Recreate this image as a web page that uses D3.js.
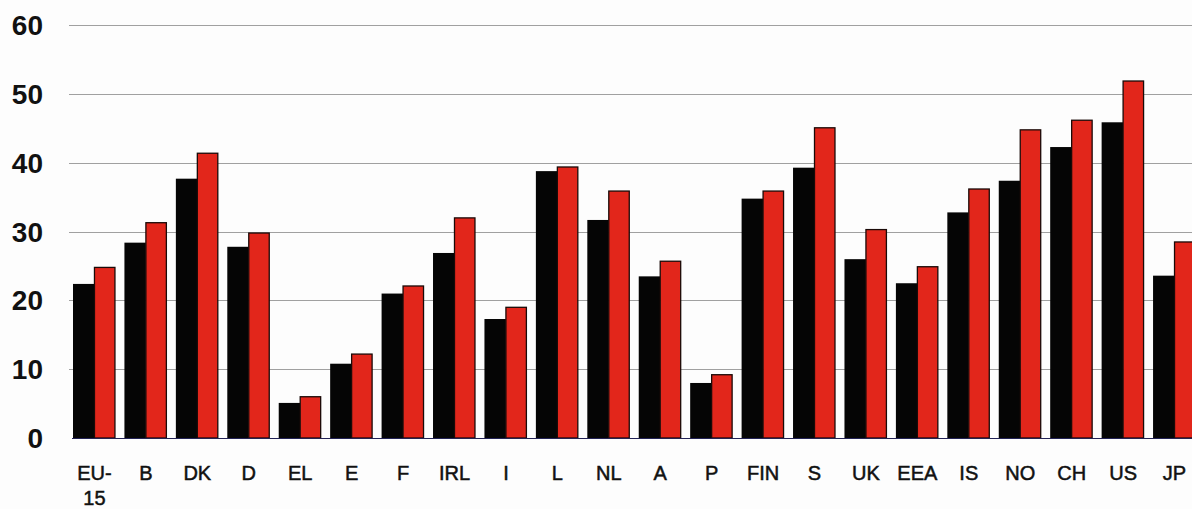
<!DOCTYPE html>
<html><head><meta charset="utf-8">
<script src="https://cdn.jsdelivr.net/npm/d3@7"></script>
<style>html,body{margin:0;padding:0;background:#fdfdfd;}svg{display:block;}</style>
</head><body>
<svg id="chart" width="1192" height="509"></svg>
<script>
const categories = ["EU-15","B","DK","D","EL","E","F","IRL","I","L","NL","A","P","FIN","S","UK","EEA","IS","NO","CH","US","JP"];
const series1 = [22.4,28.4,37.7,27.8,5.1,10.8,21.0,26.9,17.3,38.8,31.7,23.5,8.0,34.8,39.3,26.0,22.5,32.8,37.4,42.3,45.9,23.6];
const series2 = [24.8,31.3,41.4,29.8,6.0,12.2,22.1,32.0,19.0,39.4,35.9,25.7,9.2,35.9,45.1,30.3,24.9,36.2,44.8,46.2,51.9,28.5];
const yTicks = [0,10,20,30,40,50,60];

const svg = d3.select("#chart");
const y = d3.scaleLinear().domain([0,60]).range([438,25.3]);
const x = d3.scaleBand().domain(categories).range([73,1196]).paddingInner(0.165).paddingOuter(0);
const sub = d3.scaleBand().domain([0,1]).range([0,x.bandwidth()]).padding(0);

// gridlines
svg.append("g").selectAll("line").data(yTicks.filter(d=>d>0)).join("line")
  .attr("x1",69).attr("x2",1192)
  .attr("y1",d=>Math.round(y(d))+0.5).attr("y2",d=>Math.round(y(d))+0.5)
  .attr("stroke","#a0a0a0").attr("stroke-width",1);

// y labels
svg.append("g").selectAll("text").data(yTicks).join("text")
  .attr("x",43).attr("y",d=>y(d)+10)
  .attr("text-anchor","end")
  .attr("font-family","'Liberation Sans', Arial, sans-serif")
  .attr("font-weight","bold").attr("font-size",28).attr("fill","#111")
  .text(d=>d);

// bars
const groups = svg.append("g").selectAll("g").data(categories).join("g")
  .attr("transform",d=>`translate(${x(d)},0)`);
groups.append("rect")
  .attr("x",sub(0)).attr("width",sub.bandwidth())
  .attr("y",(d,i)=>y(series1[i])).attr("height",(d,i)=>y(0)-y(series1[i]))
  .attr("fill","#050505");
groups.append("rect")
  .attr("x",sub(1)).attr("width",sub.bandwidth()-1)
  .attr("y",(d,i)=>y(series2[i])).attr("height",(d,i)=>y(0)-y(series2[i]))
  .attr("fill","#e2261b").attr("stroke","#1a0a08").attr("stroke-width",1.3);

// baseline
svg.append("line").attr("x1",72).attr("x2",1192).attr("y1",438.5).attr("y2",438.5)
  .attr("stroke","#222255").attr("stroke-width",1);

// x labels
const xl = svg.append("g").selectAll("text").data(categories).join("text")
  .attr("x",d=>x(d)+x.bandwidth()/2).attr("y",480)
  .attr("text-anchor","middle")
  .attr("font-family","'Liberation Sans', Arial, sans-serif")
  .attr("font-size",20).attr("fill","#111")
  .attr("stroke","#111").attr("stroke-width",0.5);
xl.each(function(d){
  const t = d3.select(this);
  if(d==="EU-15"){
    t.append("tspan").attr("x",x(d)+x.bandwidth()/2).text("EU-");
    t.append("tspan").attr("x",x(d)+x.bandwidth()/2).attr("dy",25).text("15");
  } else t.text(d);
});
</script>
</body></html>
